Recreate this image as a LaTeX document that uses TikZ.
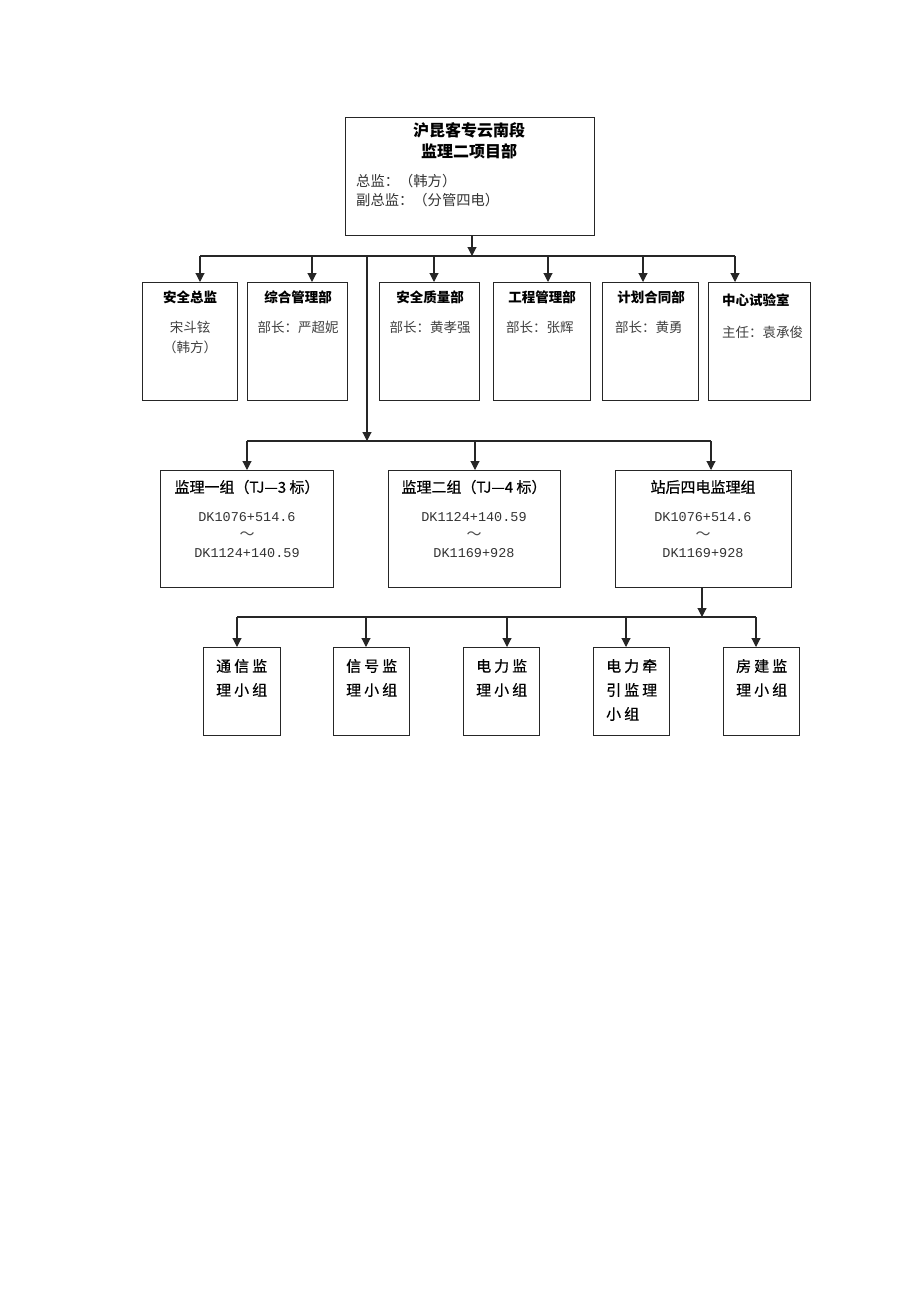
\documentclass[tikz,border=0pt]{standalone}
\usepackage{fontspec}
\setmainfont{Noto Sans CJK SC}
\setmonofont{Liberation Mono}
\newfontfamily\cjkm{Noto Sans CJK SC}[FakeBold=0.5]
\usetikzlibrary{arrows.meta}
\begin{document}
\begin{tikzpicture}[x=1pt,y=-1pt,
  box/.style={draw=black!85, line width=1.2pt, rectangle, anchor=north west, inner sep=0pt},
  conn/.style={draw=black!85, line width=1.1pt},
  arr/.style={conn, -{Triangle[length=9pt,width=9pt]}},
  ttl/.style={inner sep=0pt, font=\fontsize{13.5}{16}\selectfont\bfseries},
  sub/.style={inner sep=0pt, text=black!75, font=\fontsize{13.5}{16}\selectfont},
  grp/.style={inner sep=0pt, font=\fontsize{15}{18}\selectfont\cjkm},
  dk/.style={inner sep=0pt, text=black!80, font=\fontsize{13.5}{16}\selectfont\ttfamily},
  tld/.style={inner sep=0pt, text=black!70, font=\fontsize{15}{16}\selectfont},
  sm/.style={inner sep=0pt, anchor=west, font=\fontsize{15}{18}\selectfont\cjkm}
]
\useasboundingbox (0,0) rectangle (920,1302);

% top box
\node[box, minimum width=249, minimum height=118] (top) at (345,117) {};
\node[inner sep=0pt, font=\fontsize{16}{19}\selectfont\bfseries] (topt1) at (469,130) {沪昆客专云南段};
\node[inner sep=0pt, font=\fontsize{16}{19}\selectfont\bfseries] (topt2) at (469,151) {监理二项目部};
\node[inner sep=0pt, anchor=west, text=black!80, font=\fontsize{14.3}{17}\selectfont] (topt3) at (356,181) {总监：（韩方）};
\node[inner sep=0pt, anchor=west, text=black!80, font=\fontsize{14.3}{17}\selectfont] (topt4) at (356,200) {副总监：（分管四电）};

% row 2 boxes
\node[box, minimum width=95, minimum height=118] (b1) at (142,282) {};
\node[box, minimum width=100, minimum height=118] (b2) at (247,282) {};
\node[box, minimum width=100, minimum height=118] (b3) at (379,282) {};
\node[box, minimum width=97, minimum height=118] (b4) at (493,282) {};
\node[box, minimum width=96, minimum height=118] (b5) at (602,282) {};
\node[box, minimum width=102, minimum height=118] (b6) at (708,282) {};

\node[ttl] (b1t) at (190,297) {安全总监};
\node[sub] (b1s) at (190,327) {宋斗铉};
\node[sub] (b1u) at (190,347) {（韩方）};
\node[ttl] (b2t) at (298,297) {综合管理部};
\node[sub] (b2s) at (298,327) {部长：严超妮};
\node[ttl] (b3t) at (430,297) {安全质量部};
\node[sub] (b3s) at (430,327) {部长：黄孝强};
\node[ttl] (b4t) at (542,297) {工程管理部};
\node[sub, anchor=west] (b4s) at (506,327) {部长：张辉};
\node[ttl] (b5t) at (651,297) {计划合同部};
\node[sub, anchor=west] (b5s) at (615,327) {部长：黄勇};
\node[ttl, anchor=west] (b6t) at (722,300) {中心试验室};
\node[sub, anchor=west] (b6s) at (722,332) {主任：袁承俊};

% connectors top -> row 2
\coordinate (bus1) at (472,256);
\coordinate (a1) at (200,256);
\coordinate (a2) at (312,256);
\coordinate (a3) at (434,256);
\coordinate (a4) at (548,256);
\coordinate (a5) at (643,256);
\coordinate (a6) at (735,256);
\draw[arr] (top.south -| bus1) -- (bus1);
\draw[conn] (a1) -- (a6);
\draw[arr] (a1) -- (a1 |- b1.north);
\draw[arr] (a2) -- (a2 |- b2.north);
\draw[arr] (a3) -- (a3 |- b3.north);
\draw[arr] (a4) -- (a4 |- b4.north);
\draw[arr] (a5) -- (a5 |- b5.north);
\draw[arr] (a6) -- (a6 |- b6.north);

% row 3 boxes
\node[box, minimum width=173, minimum height=117] (g1) at (160,470) {};
\node[box, minimum width=172, minimum height=117] (g2) at (388,470) {};
\node[box, minimum width=176, minimum height=117] (g3) at (615,470) {};

\node[grp] (g1t) at (247,487) {监理一组（TJ—3 标）};
\node[dk] (g1a) at (247,517) {DK1076+514.6};
\node[tld] (g1b) at (247,536) {～};
\node[dk] (g1c) at (247,553) {DK1124+140.59};
\node[grp] (g2t) at (474,487) {监理二组（TJ—4 标）};
\node[dk] (g2a) at (474,517) {DK1124+140.59};
\node[tld] (g2b) at (474,536) {～};
\node[dk] (g2c) at (474,553) {DK1169+928};
\node[grp] (g3t) at (703,487) {站后四电监理组};
\node[dk] (g3a) at (703,517) {DK1076+514.6};
\node[tld] (g3b) at (703,536) {～};
\node[dk] (g3c) at (703,553) {DK1169+928};

% connectors -> row 3
\coordinate (v1) at (367,256);
\coordinate (bus2) at (367,441);
\coordinate (c1) at (247,441);
\coordinate (c2) at (475,441);
\coordinate (c3) at (711,441);
\draw[arr] (v1) -- (bus2);
\draw[conn] (c1) -- (c3);
\draw[arr] (c1) -- (c1 |- g1.north);
\draw[arr] (c2) -- (c2 |- g2.north);
\draw[arr] (c3) -- (c3 |- g3.north);

% row 4 boxes
\node[box, minimum width=77, minimum height=88] (s1) at (203,647) {};
\node[box, minimum width=76, minimum height=88] (s2) at (333,647) {};
\node[box, minimum width=76, minimum height=88] (s3) at (463,647) {};
\node[box, minimum width=76, minimum height=88] (s4) at (593,647) {};
\node[box, minimum width=76, minimum height=88] (s5) at (723,647) {};

\node[sm] (s1a) at (216,666) {通\kern3pt 信\kern3pt 监};
\node[sm] (s1b) at (216,690) {理\kern3pt 小\kern3pt 组};
\node[sm] (s2a) at (346,666) {信\kern3pt 号\kern3pt 监};
\node[sm] (s2b) at (346,690) {理\kern3pt 小\kern3pt 组};
\node[sm] (s3a) at (476,666) {电\kern3pt 力\kern3pt 监};
\node[sm] (s3b) at (476,690) {理\kern3pt 小\kern3pt 组};
\node[sm] (s4a) at (606,666) {电\kern3pt 力\kern3pt 牵};
\node[sm] (s4b) at (606,690) {引\kern3pt 监\kern3pt 理};
\node[sm] (s4c) at (606,714) {小\kern3pt 组};
\node[sm] (s5a) at (736,666) {房\kern3pt 建\kern3pt 监};
\node[sm] (s5b) at (736,690) {理\kern3pt 小\kern3pt 组};

% connectors -> row 4
\coordinate (d0) at (702,617);
\coordinate (e1) at (237,617);
\coordinate (e2) at (366,617);
\coordinate (e3) at (507,617);
\coordinate (e4) at (626,617);
\coordinate (e5) at (756,617);
\draw[arr] (g3.south -| d0) -- (d0);
\draw[conn] (e1) -- (e5);
\draw[arr] (e1) -- (e1 |- s1.north);
\draw[arr] (e2) -- (e2 |- s2.north);
\draw[arr] (e3) -- (e3 |- s3.north);
\draw[arr] (e4) -- (e4 |- s4.north);
\draw[arr] (e5) -- (e5 |- s5.north);
\end{tikzpicture}
\end{document}
